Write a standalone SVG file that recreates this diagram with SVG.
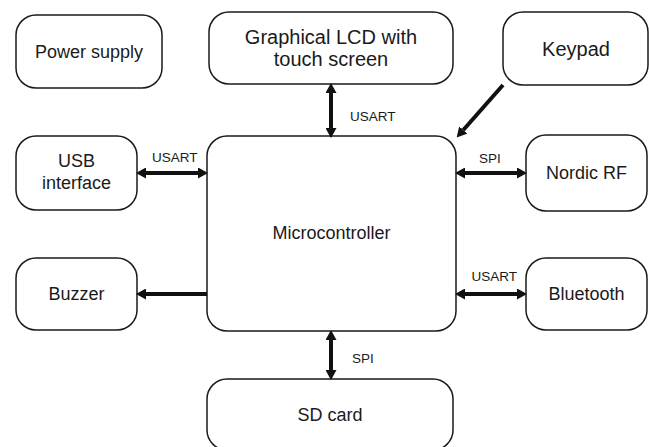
<svg xmlns="http://www.w3.org/2000/svg" width="649" height="447" viewBox="0 0 649 447">
<style>
.box{fill:#fff;stroke:#1a1a1a;stroke-width:1.5}
.t{font-family:"Liberation Sans",Arial,sans-serif;font-size:18px;fill:#1a1a1a;text-anchor:middle}
.big{font-size:20px}
.l{font-family:"Liberation Sans",Arial,sans-serif;font-size:13.5px;fill:#1a1a1a}
.c{stroke:#111;stroke-width:4;fill:none}
</style>
<defs>
<marker id="ah" markerUnits="userSpaceOnUse" markerWidth="10" markerHeight="11" viewBox="0 0 10 11" refX="0" refY="5.5" orient="auto-start-reverse">
<path d="M0,0 L10,5.5 L0,11 z" fill="#111"/>
</marker>
</defs>
<rect width="649" height="447" fill="#fff"/>
<g id="power"><rect class="box" x="16" y="15" width="146" height="73" rx="20"/><text class="t" x="89" y="58">Power supply</text></g>
<g id="lcd"><rect class="box" x="209" y="12" width="244" height="72" rx="20"/><text class="t big" x="331" y="43.5">Graphical LCD with</text><text class="t big" x="331" y="65.5">touch screen</text></g>
<g id="keypad"><rect class="box" x="503" y="12" width="145" height="73" rx="20"/><text class="t big" x="576" y="56">Keypad</text></g>
<g id="usb"><rect class="box" x="16" y="136" width="121" height="74" rx="20"/><text class="t" x="76.5" y="167">USB</text><text class="t" x="76.5" y="189">interface</text></g>
<g id="buzzer"><rect class="box" x="16" y="258" width="121" height="72" rx="20"/><text class="t" x="76.5" y="300">Buzzer</text></g>
<g id="micro"><rect class="box" x="207" y="136" width="249" height="195" rx="20"/><text class="t" x="331.5" y="239">Microcontroller</text></g>
<g id="nordic"><rect class="box" x="526" y="135" width="121" height="76" rx="20"/><text class="t" x="586.5" y="179">Nordic RF</text></g>
<g id="bluetooth"><rect class="box" x="526" y="258" width="121" height="72" rx="20"/><text class="t" x="586.5" y="300">Bluetooth</text></g>
<g id="sdcard"><rect class="box" x="207" y="379" width="246" height="71" rx="20"/><text class="t" x="330" y="421">SD card</text></g>
<g id="connectors">
<path class="c" d="M331,93 L331,128" marker-start="url(#ah)" marker-end="url(#ah)"/>
<path class="c" d="M503,85 L463.3,130" marker-end="url(#ah)"/>
<path class="c" d="M146,173 L198,173" marker-start="url(#ah)" marker-end="url(#ah)"/>
<path class="c" d="M207,294 L146,294" marker-end="url(#ah)"/>
<path class="c" d="M465,173 L517,173" marker-start="url(#ah)" marker-end="url(#ah)"/>
<path class="c" d="M465,294 L517,294" marker-start="url(#ah)" marker-end="url(#ah)"/>
<path class="c" d="M331,340 L331,370" marker-start="url(#ah)" marker-end="url(#ah)"/>
<text class="l" x="350" y="121">USART</text>
<text class="l" x="152" y="162">USART</text>
<text class="l" x="479" y="162.5">SPI</text>
<text class="l" x="471.5" y="281">USART</text>
<text class="l" x="352" y="362.5">SPI</text>
</g>
</svg>
